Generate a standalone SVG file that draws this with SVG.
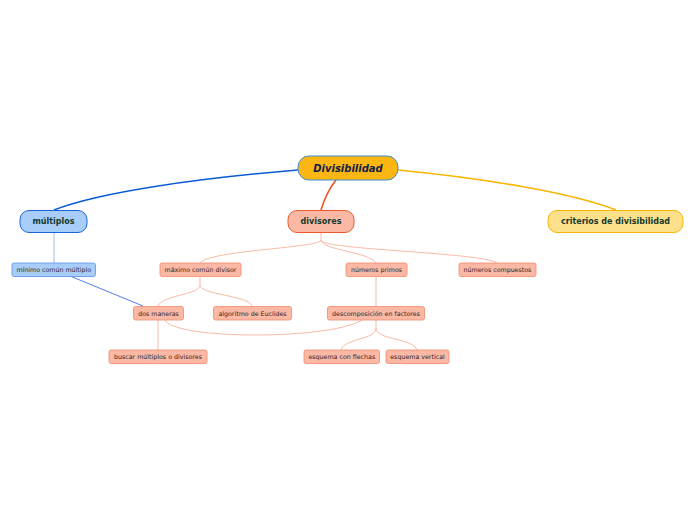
<svg xmlns="http://www.w3.org/2000/svg" width="696" height="520" viewBox="0 0 696 520">
<style>
text{font-family:"DejaVu Sans","Liberation Sans",sans-serif;text-anchor:middle;dominant-baseline:central}
.main{font-size:8px;font-weight:bold;fill:#133a2c}
.sub{font-size:6.3px;fill:#2e221e}
.bl{fill:#a9cdf9;stroke:#1d63d8;stroke-width:1}
.bls{fill:#a9cdf9;stroke:#5b8fe6;stroke-width:0.8}
.or{fill:#fbb9a5;stroke:#eb5a2f;stroke-width:1}
.ors{fill:#fbb9a5;stroke:#f08a69;stroke-width:0.8}
.ye{fill:#fde08a;stroke:#f5b50a;stroke-width:1}
.c{fill:none;stroke:#f6a88e;stroke-width:0.8}
</style>
<rect width="696" height="520" fill="#fff"/>
<g id="connectors">
<path d="M298,170 C200,178 100,192 54,210" fill="none" stroke="#0b5bd3" stroke-width="1.6"/>
<path d="M398,170 C480,178 570,192 616,210" fill="none" stroke="#f7b500" stroke-width="1.6"/>
<path d="M336,180 C328,190 324,200 321,210" fill="none" stroke="#ec5325" stroke-width="1.6"/>
<path d="M54,232 V263" fill="none" stroke="#9bbdf2" stroke-width="1"/>
<path d="M70,276 L143,306" fill="none" stroke="#3d6fe6" stroke-width="0.9"/>
<path class="c" d="M321,232 V240 C321,248 210,250 200,263"/>
<path class="c" d="M321,240 C321,250 370,252 376,263"/>
<path class="c" d="M321,240 C321,250 480,252 497,263"/>
<path class="c" d="M200,276 V285 C200,295 162,295 158,306"/>
<path class="c" d="M200,285 C200,295 248,295 252,306"/>
<path class="c" d="M376,276 V306"/>
<path class="c" d="M158,320 V350"/>
<path class="c" d="M376,320 V328 C376,340 345,338 341,350"/>
<path class="c" d="M376,328 C376,340 413,338 417,350"/>
<path class="c" d="M165,320 C175,340 330,340 362,320"/>
</g>
<g id="root">
<rect x="298" y="156" width="100" height="24" rx="11" fill="#fbb612" stroke="#3d8fd1" stroke-width="1"/>
<text x="348" y="168" font-size="10" font-weight="bold" font-style="italic" fill="#13204a">Divisibilidad</text>
</g>
<g id="multiplos">
<rect class="bl" x="20" y="210.5" width="67" height="22" rx="9"/>
<text class="main" x="53.5" y="221.5">múltiplos</text>
</g>
<g id="divisores">
<rect class="or" x="288" y="210.5" width="66" height="22" rx="9"/>
<text class="main" x="321" y="221.5">divisores</text>
</g>
<g id="criterios">
<rect class="ye" x="548" y="210.5" width="135" height="22" rx="9"/>
<text class="main" x="615.5" y="221.5">criterios de divisibilidad</text>
</g>
<g id="minimo">
<rect class="bls" x="12" y="263" width="83.5" height="13.5" rx="2"/>
<text class="sub" x="53.8" y="269.8">mínimo común múltiplo</text>
</g>
<g id="maximo">
<rect class="ors" x="160" y="263" width="81" height="13.5" rx="2"/>
<text class="sub" x="200.5" y="269.8">máximo común divisor</text>
</g>
<g id="primos">
<rect class="ors" x="346" y="263" width="61" height="13.5" rx="2"/>
<text class="sub" x="376.5" y="269.8">números primos</text>
</g>
<g id="compuestos">
<rect class="ors" x="459" y="263" width="77" height="13.5" rx="2"/>
<text class="sub" x="497.5" y="269.8">números compuestos</text>
</g>
<g id="dosmaneras">
<rect class="ors" x="133.5" y="306.5" width="50" height="13.5" rx="2"/>
<text class="sub" x="158.5" y="313.3">dos maneras</text>
</g>
<g id="euclides">
<rect class="ors" x="213.5" y="306.5" width="78" height="13.5" rx="2"/>
<text class="sub" x="252.5" y="313.3">algoritmo de Euclides</text>
</g>
<g id="descomposicion">
<rect class="ors" x="327.5" y="306.5" width="97" height="13.5" rx="2"/>
<text class="sub" x="376" y="313.3">descomposición en factores</text>
</g>
<g id="buscar">
<rect class="ors" x="109" y="350" width="98" height="13.5" rx="2"/>
<text class="sub" x="158" y="356.8">buscar múltiplos o divisores</text>
</g>
<g id="flechas">
<rect class="ors" x="304" y="350" width="75.5" height="13.5" rx="2"/>
<text class="sub" x="341.8" y="356.8">esquema con flechas</text>
</g>
<g id="vertical">
<rect class="ors" x="386" y="350" width="63" height="13.5" rx="2"/>
<text class="sub" x="417.5" y="356.8">esquema vertical</text>
</g>
</svg>
